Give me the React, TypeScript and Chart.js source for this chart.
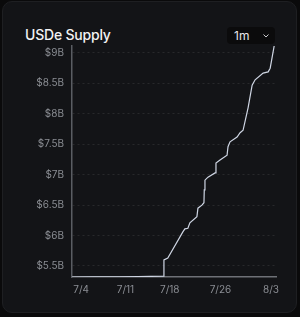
import React, { useEffect, useRef } from "react";
import { Chart, registerables } from "chart.js";

Chart.register(...registerables);

// Days since Jul 4 (x) and USDe supply in billions of USD (y)
const dayOffsets = [
  -1.44, 2, 6, 9, 11, 13.04, 13.08, 13.69, 16.07, 16.39, 16.86, 17.18, 18.29, 18.45,
  19.08, 19.4, 19.45, 19.56, 20.04, 21.15, 21.3, 21.94, 23.05, 23.2, 23.52, 24.63,
  25.11, 25.58, 26.22, 26.37, 27.01, 27.48, 28.75, 29.54, 29.86, 30.49,
];
const supplyB = [
  5.319, 5.32, 5.322, 5.325, 5.33, 5.335, 5.6, 5.63, 6.06, 6.11, 6.12, 6.21, 6.31, 6.45,
  6.5, 6.54, 6.75, 6.91, 6.96, 7.03, 7.19, 7.24, 7.32, 7.46, 7.54, 7.62,
  7.69, 7.73, 8.03, 8.1, 8.47, 8.56, 8.67, 8.69, 8.75, 9.115,
];
const xTickDays = [0, 7, 14, 22, 30];
const xTickLabels = ["7/4", "7/11", "7/18", "7/26", "8/3"];
const yTickValues = [5.5, 6, 6.5, 7, 7.5, 8, 8.5, 9];
const title = "USDe Supply";
const rangeLabel = "1m";

const FONT = "Inter, 'Noto Sans', sans-serif";

export default function App() {
  const canvasRef = useRef<HTMLCanvasElement | null>(null);

  useEffect(() => {
    const ctx = canvasRef.current;
    if (!ctx) return;
    const points = dayOffsets.map((d, i) => ({ x: d, y: supplyB[i] }));
    const chart = new Chart(ctx, {
      type: "line",
      data: {
        datasets: [
          {
            data: points,
            borderColor: "#cfd6e4",
            borderWidth: 1.2,
            pointRadius: 0,
            tension: 0,
            fill: false,
          },
        ],
      },
      options: {
        animation: false,
        responsive: false,
        maintainAspectRatio: false,
        events: [],
        layout: { padding: { top: 46, right: 24, left: 0, bottom: 0 } },
        plugins: { legend: { display: false }, tooltip: { enabled: false } },
        scales: {
          x: {
            type: "linear",
            min: -1.44,
            max: 30.78,
            afterBuildTicks: (scale: any) => {
              scale.ticks = xTickDays.map((v) => ({ value: v }));
            },
            afterFit: (scale: any) => {
              scale.height = 40;
            },
            ticks: {
              autoSkip: false,
              maxRotation: 0,
              padding: 7,
              color: "#8b8e94",
              font: { family: FONT, size: 10 },
              callback: (v: any) => {
                const i = xTickDays.indexOf(Number(v));
                return i >= 0 ? xTickLabels[i] : "";
              },
            },
            grid: { display: false, drawTicks: false },
            border: { display: true, color: "#6e7177", width: 1.5 },
          },
          y: {
            type: "linear",
            min: 5.319,
            max: 9.115,
            afterBuildTicks: (scale: any) => {
              scale.ticks = yTickValues.map((v) => ({ value: v }));
            },
            afterFit: (scale: any) => {
              scale.width = 72;
            },
            ticks: {
              padding: 8,
              color: "#8b8e94",
              font: { family: FONT, size: 10 },
              callback: (v: any) => "$" + Number(v) + "B",
            },
            grid: {
              drawTicks: false,
              color: "rgba(255,255,255,0.09)",
              lineWidth: 1,
            },
            border: { display: true, color: "#5a5d63", width: 1.5, dash: [2, 3] },
          },
        },
      },
    });
    return () => chart.destroy();
  }, []);

  return (
    <div
      style={{
        position: "fixed",
        left: 0,
        top: 0,
        width: 300,
        height: 317,
        background: "#0a0a0b",
        overflow: "hidden",
        fontFamily: FONT,
      }}
    >
      <div
        style={{
          position: "absolute",
          left: 2,
          top: 1,
          width: 293,
          height: 310,
          borderRadius: 10,
          background: "#131417",
          border: "1px solid #1e1f22",
        }}
      />
      <div
        style={{
          position: "absolute",
          left: 25,
          top: 28,
          fontSize: 14,
          lineHeight: "14px",
          fontWeight: 500,
          letterSpacing: "-0.2px",
          color: "#f2f2f3",
          whiteSpace: "nowrap",
        }}
      >
        {title}
      </div>
      <div
        style={{
          position: "absolute",
          left: 227,
          top: 27,
          width: 48,
          height: 17,
          borderRadius: 4,
          background: "#0b0b0c",
        }}
      >
        <span
          style={{
            position: "absolute",
            left: 7,
            top: 2,
            fontSize: 12,
            lineHeight: "13px",
            color: "#e8e8ea",
          }}
        >
          {rangeLabel}
        </span>
        <svg
          width="8"
          height="6"
          viewBox="0 0 8 6"
          style={{ position: "absolute", left: 35, top: 6 }}
        >
          <path d="M1.5 1.5 L4 4 L6.5 1.5" stroke="#c9cacd" strokeWidth="1" fill="none" />
        </svg>
      </div>
      <canvas
        ref={canvasRef}
        width={300}
        height={317}
        style={{ position: "absolute", left: 0, top: 0, width: 300, height: 317 }}
      />
    </div>
  );
}
